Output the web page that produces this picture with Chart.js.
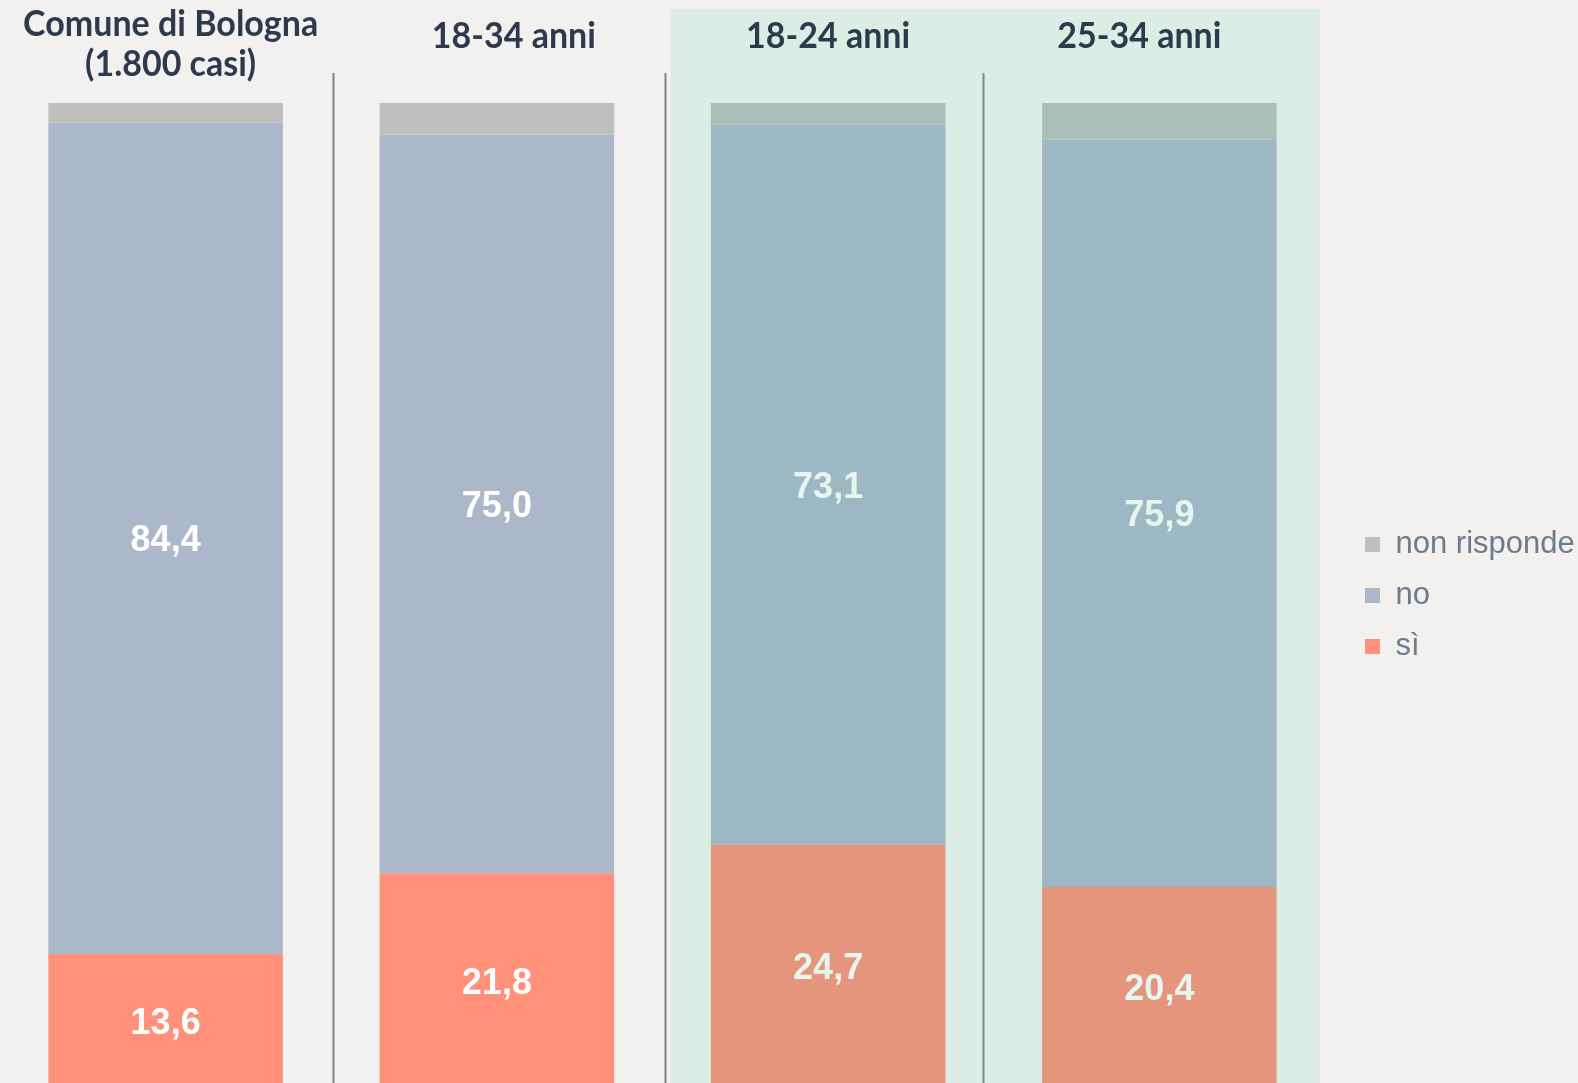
<!DOCTYPE html>
<html>
<head>
  <meta charset="utf-8">
  <script src="https://cdn.jsdelivr.net/npm/chart.js"></script>
  <style>
    body { margin: 0; background: #f2f1ef; overflow: hidden; }
  </style>
</head>
<body>
  <!-- a few px taller than the window: the bars run past the bottom edge in the original -->
  <div style="width: 1578px; height: 1088px;">
    <canvas id="stackChart"></canvas>
  </div>

  <script>
    const categories = [['Comune di Bologna', '(1.800 casi)'], '18-34 anni', '18-24 anni', '25-34 anni'];
    const siValues = [13.6, 21.8, 24.7, 20.4];
    const noValues = [84.4, 75.0, 73.1, 75.9];
    const nonRispondeValues = [2.0, 3.2, 2.2, 3.7];
    const highlighted = [false, false, true, true];

    // plain colour outside, muted one inside the green band
    function pick(plain, band) {
      return (c) => highlighted[c.dataIndex] ? band : plain;
    }

    function tallText(ctx, text, x, y, k) {
      ctx.save();
      ctx.translate(x, y);
      ctx.scale(1, k);
      ctx.fillText(text, 0, 0);
      ctx.restore();
    }

    const panels = {
      id: 'panels',
      beforeDraw(chart) {
        const { ctx, chartArea, scales: { x } } = chart;
        const h = chart.height;
        const px = (i) => x.getPixelForValue(i);

        ctx.save();
        // green band behind the two age groups
        const bandLeft = (px(1) + px(2)) / 2 + 8;
        ctx.fillStyle = '#dcede6';
        ctx.fillRect(bandLeft, 9, chartArea.right - 5 - bandLeft, h - 9);

        // separators between groups
        const shifts = [2, 2, -11];
        ctx.lineWidth = 2;
        for (let i = 0; i < categories.length - 1; i++) {
          const sx = Math.round((px(i) + px(i + 1)) / 2 + shifts[i]) + 0.5;
          ctx.strokeStyle = highlighted[i] ? '#7d8b86' : '#828282';
          ctx.beginPath();
          ctx.moveTo(sx, 73);
          ctx.lineTo(sx, h);
          ctx.stroke();
        }

        // group titles
        const titleShift = [5, 17, 0, -20];
        ctx.fillStyle = '#2e3a4b';
        ctx.font = 'bold 34px Lato';
        ctx.textAlign = 'center';
        ctx.textBaseline = 'middle';
        chart.data.labels.forEach((lab, i) => {
          const tx = px(i) + titleShift[i];
          if (Array.isArray(lab)) {
            tallText(ctx, lab[0], tx, 24, 1.05);
            tallText(ctx, lab[1], tx, 64, 1.05);
          } else {
            tallText(ctx, lab, tx, 36, 1.05);
          }
        });
        ctx.restore();
      },
      afterDatasetsDraw(chart) {
        const { ctx } = chart;
        ctx.save();
        ctx.font = 'bold 36px "Liberation Sans", Arial';
        ctx.textAlign = 'center';
        ctx.textBaseline = 'middle';
        [0, 1].forEach((di) => {
          const ds = chart.data.datasets[di];
          chart.getDatasetMeta(di).data.forEach((bar, i) => {
            const txt = ds.data[i].toFixed(1).replace('.', ',');
            ctx.fillStyle = highlighted[i] ? '#e4f6ef' : '#ffffff';
            ctx.fillText(txt, bar.x, (bar.y + bar.base) / 2 + 3);
          });
        });
        ctx.restore();
      }
    };

    const ctx = document.getElementById('stackChart').getContext('2d');
    const stackChart = new Chart(ctx, {
      type: 'bar',
      data: {
        labels: categories,
        datasets: [
          {
            label: 'sì',
            data: siValues,
            backgroundColor: pick('#ff907a', '#e5957c'),
            borderColor: 'rgba(0,0,0,0)',
            borderWidth: 0,
          },
          {
            label: 'no',
            data: noValues,
            backgroundColor: pick('#acb7c9', '#9cb8c3'),
            borderColor: 'rgba(0,0,0,0)',
            borderWidth: 0,
          },
          {
            label: 'non risponde',
            data: nonRispondeValues,
            backgroundColor: pick('#bfbfbf', '#aabfb8'),
            borderColor: 'rgba(0,0,0,0)',
            borderWidth: 0,
          },
        ],
      },
      options: {
        responsive: true,
        maintainAspectRatio: false,
        animation: false,
        categoryPercentage: 1,
        barPercentage: 0.708,
        layout: {
          padding: { top: 103, left: 0, right: 0, bottom: 0 }
        },
        scales: {
          x: {
            stacked: true,
            display: false,
          },
          y: {
            stacked: true,
            min: 0,
            max: 100,
            position: 'right',
            ticks: { display: false },
            grid: { display: false },
            border: { display: false },
            afterFit(scale) { scale.width = 20; }
          },
        },
        plugins: {
          legend: {
            position: 'right',
            reverse: true,
            maxWidth: 233,
            labels: {
              boxWidth: 15,
              boxHeight: 15,
              padding: 20,
              color: '#6e7b8b',
              font: { size: 31, family: '"Liberation Sans", Arial' }
            }
          },
          tooltip: { enabled: false },
        },
      },
      plugins: [panels],
    });
  </script>
</body>
</html>
